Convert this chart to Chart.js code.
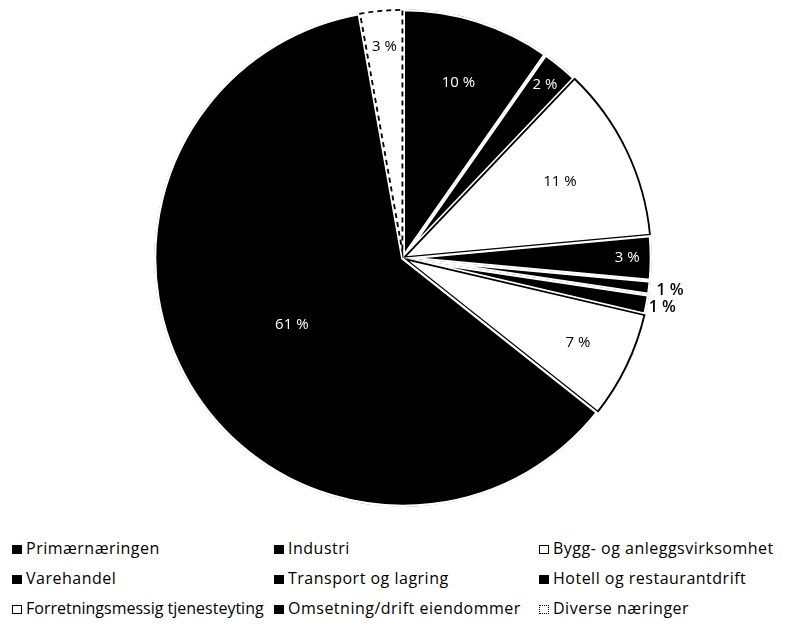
<!DOCTYPE html>
<html>
<head>
<meta charset="utf-8">
<script src="https://cdn.jsdelivr.net/npm/chart.js@4/dist/chart.umd.min.js"></script>
<style>
    body { margin: 0; background: #fff; width: 793px; height: 628px; overflow: hidden; font-family: "Open Sans", sans-serif; }
    #chart { position: absolute; left: 0; top: 0; }
    .item { position: absolute; font-size: 16px; letter-spacing: 0.5px; color: #000; white-space: nowrap; line-height: 20px; }
    .item.tight { letter-spacing: 0; }
    .box { display: inline-block; width: 10px; height: 9px; margin-right: 4px; box-sizing: border-box; vertical-align: 0px; }
</style>
</head>
<body>
<canvas id="chart" width="793" height="520"></canvas>
<div id="legend"></div>
<script>
// Sectors and their share of total (percent)
const sectors = [
    'Primærnæringen', 'Industri', 'Bygg- og anleggsvirksomhet',
    'Varehandel', 'Transport og lagring', 'Hotell og restaurantdrift',
    'Forretningsmessig tjenesteyting', 'Omsetning/drift eiendommer', 'Diverse næringer'
];
const shares = [9.7, 2.4, 11.4, 2.9, 0.9, 1.3, 7.0, 61.4, 2.8];

// Styling (not data)
const fills = ['#000', '#000', '#fff', '#000', '#000', '#000', '#fff', '#000', '#fff'];
const labelRadius = [0.74, 0.90, 0.70, 0.90, 1.08, 1.06, 0.78, 0.52, 0.85];
const labelColor = ['#fff', '#fff', '#000', '#fff', '#000', '#000', '#000', '#fff', '#000'];
const labelBold = [false, false, false, false, true, true, false, false, false];

// Draw percentage labels on / next to each slice
const sliceLabels = {
    id: 'sliceLabels',
    afterDatasetsDraw(chart) {
        const ctx = chart.ctx;
        const meta = chart.getDatasetMeta(0);
        ctx.save();
        ctx.textAlign = 'center';
        ctx.textBaseline = 'middle';
        meta.data.forEach((arc, i) => {
            const p = arc.getProps(['x', 'y', 'startAngle', 'endAngle', 'outerRadius'], true);
            const mid = (p.startAngle + p.endAngle) / 2;
            const r = p.outerRadius * labelRadius[i];
            ctx.fillStyle = labelColor[i];
            ctx.font = (labelBold[i] ? '600 16px' : '15px') + ' "Open Sans", sans-serif';
            ctx.fillText(Math.round(shares[i]) + ' %', p.x + Math.cos(mid) * r, p.y + Math.sin(mid) * r);
        });
        ctx.restore();
    }
};

const ctx = document.getElementById('chart').getContext('2d');
new Chart(ctx, {
    type: 'pie',
    data: {
        labels: sectors,
        datasets: [{
            data: shares,
            backgroundColor: fills,
            borderColor: fills.map(c => c === '#000' ? '#fff' : '#000'),
            borderWidth: fills.map(c => c === '#000' ? 2 : 1.5),
            borderAlign: 'inner',
            borderDash: c => c.dataIndex === 8 ? [5, 4] : []
        }]
    },
    options: {
        responsive: false,
        animation: false,
        layout: { padding: { top: 9, bottom: 13, left: 13, right: 0 } },
        plugins: {
            legend: { display: false },
            tooltip: { enabled: false }
        }
    },
    plugins: [sliceLabels]
});

// Legend laid out in a 3 x 3 grid like the original
const colX = [12, 274, 539];
const rowY = [538, 568, 598];
const legend = document.getElementById('legend');
sectors.forEach((name, i) => {
    const item = document.createElement('div');
    item.className = i === 6 ? 'item tight' : 'item';
    item.style.left = colX[i % 3] + 'px';
    item.style.top = rowY[Math.floor(i / 3)] + 'px';
    let boxStyle = 'background:' + fills[i] + ';border:1px solid #000;';
    if (i === 8) boxStyle = 'background:#fff;border:1px dotted #000;';
    item.innerHTML = `<span class="box" style="${boxStyle}"></span>${name}`;
    legend.appendChild(item);
});
</script>
</body>
</html>
